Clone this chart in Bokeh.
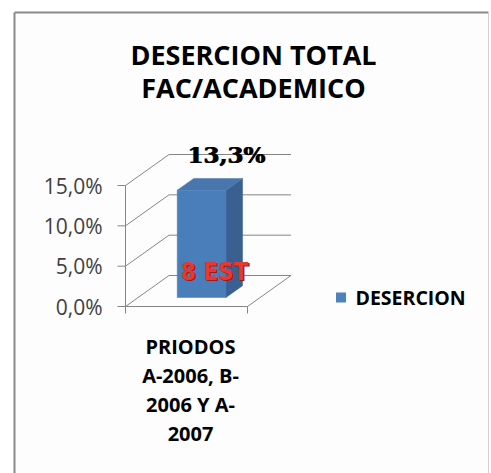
from bokeh.plotting import figure
from bokeh.models import Range1d
from bokeh.core.properties import value
from bokeh.embed import file_html
from bokeh.resources import INLINE

# ---- data ----
title_lines = ["DESERCION TOTAL", "FAC/ACADEMICO"]
categories = ["PRIODOS\nA-2006, B-\n2006 Y A-\n2007"]
series_name = "DESERCION"
values = [13.3]
value_labels = ["13,3%"]
inner_labels = ["8 EST"]
y_ticks = [0, 5, 10, 15]
y_tick_labels = ["0,0%", "5,0%", "10,0%", "15,0%"]

# ---- layout (pixels) ----
W, H = 491, 473
OX, OY = 125.0, 306.0          # px (from top-left) of data (0, 0)
PX_X = 122.0                    # px per category
PX_Y = 121.0 / 15.0             # px per percent

def X(px):
    return (px - OX) / PX_X

def Y(py):
    return (OY - py) / PX_Y

DX, DY = 43.5 / PX_X, 31.0 / PX_Y      # depth of the 3-D box
F1, F2 = 0.29, 0.67                    # bar front / back depth fractions
BAR_W = 0.40
BAR_SHIFT = 2.5 / PX_X

GRID = "#868686"
FONT = value("Open Sans")

p = figure(width=W, height=H, output_backend="svg", toolbar_location=None,
           x_range=Range1d(X(0), X(W)), y_range=Range1d(Y(H), Y(0)),
           min_border=0, min_border_left=0, min_border_right=0,
           min_border_top=0, min_border_bottom=0)
p.axis.visible = False
p.grid.visible = False
p.outline_line_color = None
p.background_fill_color = "white"
p.border_fill_color = "white"

# chart border
p.quad(left=[X(14)], right=[X(488)], top=[Y(12)], bottom=[Y(H + 10)],
       fill_color="#fdfdfd", line_color=None)
p.segment(x0=[X(14), X(14)], y0=[Y(H + 10), Y(12)], x1=[X(14), X(488)], y1=[Y(12), Y(12)],
          line_color="#8a8a8a", line_width=2)
p.segment(x0=[X(488)], y0=[Y(12)], x1=[X(488)], y1=[Y(H + 10)],
          line_color="#d0d0d0", line_width=1)

n = len(categories)

# walls: side diagonals and back gridlines
for t in y_ticks:
    p.line(x=[0, DX, n + DX], y=[t, t + DY, t + DY], line_color=GRID, line_width=1)
# floor right edge and front edge
p.line(x=[0, n, n + DX], y=[0, 0, DY], line_color=GRID, line_width=1)
# front value axis and its ticks
p.line(x=[0, 0], y=[0, max(y_ticks)], line_color=GRID, line_width=1)
p.segment(x0=[-8 / PX_X] * len(y_ticks), y0=y_ticks, x1=[0] * len(y_ticks), y1=y_ticks,
          line_color=GRID, line_width=1)
# category ticks
p.segment(x0=list(range(n + 1)), y0=[0] * (n + 1), x1=list(range(n + 1)),
          y1=[-7 / PX_Y] * (n + 1), line_color=GRID, line_width=1)

# tick labels
p.text(x=[-23 / PX_X] * len(y_ticks), y=y_ticks, text=y_tick_labels,
       text_font=FONT, text_font_size="21px", text_color="#404040",
       text_align="right", text_baseline="middle")

for i, cat in enumerate(categories):
    lines = cat.split("\n")
    cx = i + 0.5 + 4 / PX_X
    p.text(x=[cx] * len(lines), y=[Y(346 + 29 * k) for k in range(len(lines))],
           text=lines, text_font=FONT, text_font_size="20px", text_font_style="bold",
           text_color="#000000", text_align="center", text_baseline="middle")

# bars
for i, v in enumerate(values):
    l = i + 0.5 - BAR_W / 2 + F1 * DX + BAR_SHIFT
    r = i + 0.5 + BAR_W / 2 + F1 * DX + BAR_SHIFT
    b = F1 * DY
    t = v + F1 * DY
    ddx, ddy = (F2 - F1) * DX, (F2 - F1) * DY
    p.patch(x=[r, r + ddx, r + ddx, r], y=[b, b + ddy, t + ddy, t],
            fill_color="#3a6091", line_color="#3a6091", line_width=0.5)
    p.patch(x=[l, r, r + ddx, l + ddx], y=[t, t, t + ddy, t + ddy],
            fill_color="#4a76ae", line_color="#4a76ae", line_width=0.5)
    p.quad(left=[l], right=[r], bottom=[b], top=[t],
           fill_color="#4a7ebb", line_color="#4a7ebb", line_width=0.5)

    # value label above the bar (doubled for a heavier look)
    for off in (-0.5, 0.5):
        p.text(x=[X(226 + off)], y=[v + F2 * DY + 3.0], text=[value_labels[i]],
               text_font=value("DejaVu Serif"), text_font_size="23px",
               text_font_style="bold", text_color="#000000",
               text_align="center", text_baseline="alphabetic")
    # inner label
    cfont = value("'Liberation Sans Narrow', 'DejaVu Sans Condensed', sans-serif")
    p.text(x=[X(215.5)], y=[Y(272.5)], text=[inner_labels[i]], text_font=cfont,
           text_font_size="24px", text_font_style="bold", text_color="#a01818",
           text_align="center", text_baseline="middle")
    p.text(x=[X(214)], y=[Y(271)], text=[inner_labels[i]], text_font=cfont,
           text_font_size="24px", text_font_style="bold", text_color="#e8392f",
           text_align="center", text_baseline="middle")

# title
p.text(x=[X(253)] * 2, y=[Y(54), Y(87)], text=title_lines, text_font=FONT,
       text_font_size="27px", text_font_style="bold", text_color="#000000",
       text_align="center", text_baseline="middle")

# legend
p.rect(x=[X(340.5)], y=[Y(297)], width=10 / PX_X, height=10 / PX_Y,
       fill_color="#4f81bd", line_color=None)
p.text(x=[X(355)], y=[Y(297)], text=[series_name], text_font=FONT,
       text_font_size="19.5px", text_font_style="bold", text_color="#000000",
       text_align="left", text_baseline="middle")

open("out.html", "w").write(file_html(p, INLINE))
